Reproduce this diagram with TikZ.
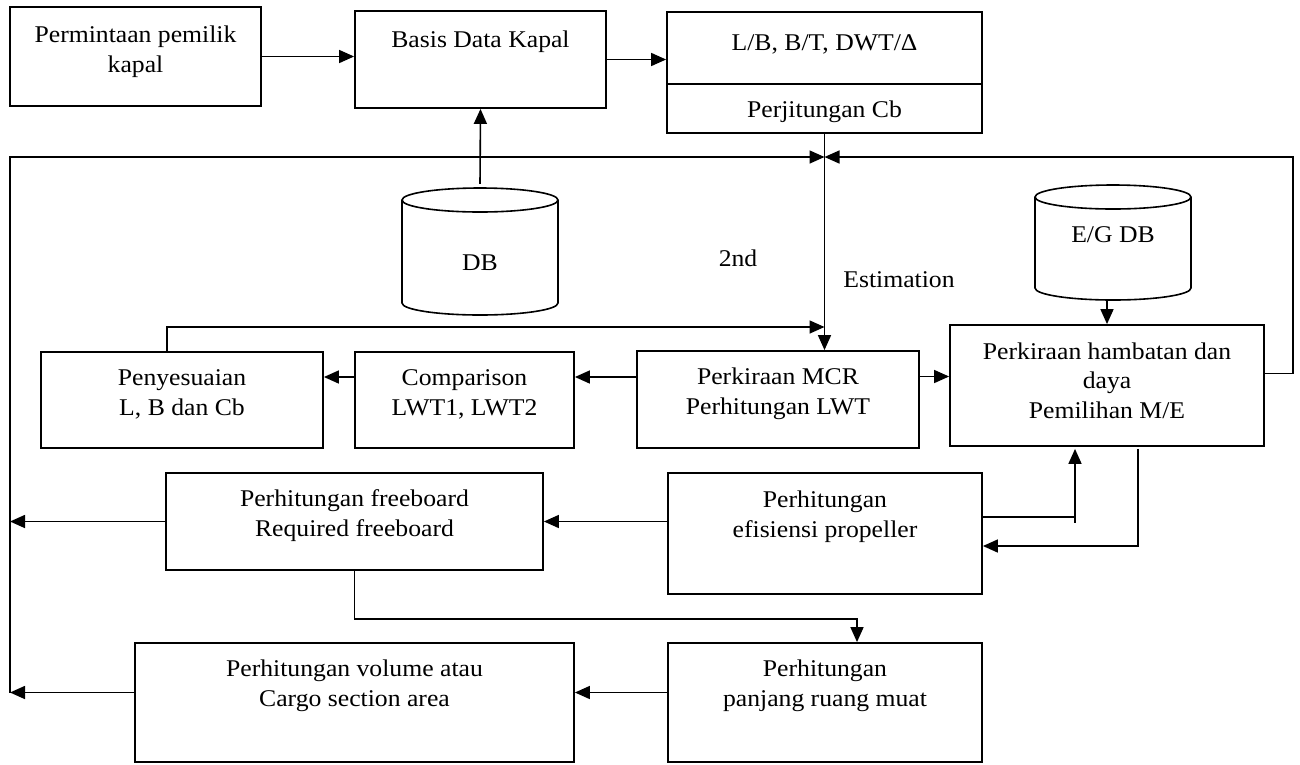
\documentclass[tikz,border=0pt]{standalone}
\usepackage{fontspec}
\setmainfont{Liberation Serif}[FakeStretch=1.07]
\usetikzlibrary{arrows.meta}
\begin{document}
\begin{tikzpicture}[x=1pt,y=-1pt,
  every node/.style={font=\fontsize{24}{29.5}\selectfont},
  box/.style={draw,line width=1.8pt,inner sep=0pt},
  cylbox/.style={inner sep=0pt},
  lbl/.style={align=center,anchor=base,inner sep=0pt},
  conn/.style={line width=1.6pt},
  arr/.style={line width=1.6pt,-{Triangle[length=15pt,width=13pt]}}]
\useasboundingbox (0,0) rectangle (1300,764);
% boxes
\node[box,minimum width=251pt,minimum height=99pt] (b1) at (135.5,56.5) {};
\node[box,minimum width=251pt,minimum height=97pt] (b2) at (480.5,59.5) {};
\node[box,minimum width=315pt,minimum height=121pt] (b3) at (824.5,72.5) {};
\draw[box] ([yshift=-11.5pt]b3.west) -- ([yshift=-11.5pt]b3.east);
\node[box,minimum width=282pt,minimum height=97pt] (mcr) at (778,399.5) {};
\node[box,minimum width=314pt,minimum height=121pt] (ham) at (1107,385.5) {};
\node[box,minimum width=282pt,minimum height=96pt] (pen) at (182,400) {};
\node[box,minimum width=219pt,minimum height=96pt] (cmp) at (464.5,400) {};
\node[box,minimum width=377pt,minimum height=97pt] (fb) at (354.5,521.5) {};
\node[box,minimum width=314pt,minimum height=121pt] (prop) at (825,533.5) {};
\node[box,minimum width=439pt,minimum height=119pt] (vol) at (354.5,702.5) {};
\node[box,minimum width=314pt,minimum height=119pt] (pan) at (825,702.5) {};
% cylinders
\node[cylbox,minimum width=156pt,minimum height=131pt] (db) at (480,249.5) {};
\draw[conn] (480,200) ellipse [x radius=78pt,y radius=12pt];
\draw[conn] (402,200) -- (402,303) arc[start angle=180,end angle=360,x radius=78pt,y radius=12pt] -- (558,200);
\node[cylbox,minimum width=156pt,minimum height=115pt] (eg) at (1113,242.5) {};
\draw[conn] (1113,197) ellipse [x radius=78pt,y radius=12pt];
\draw[conn] (1035,197) -- (1035,288) arc[start angle=180,end angle=360,x radius=78pt,y radius=12pt] -- (1191,197);
% labels (anchored at the baseline of the last line)
\node[lbl] (t1) at (135.5,72) {Permintaan pemilik\\kapal};
\node[lbl] (t2) at (480.5,47) {Basis Data Kapal};
\node[lbl] (t3a) at (824.5,50) {L/B, B/T, DWT/Δ};
\node[lbl] (t3b) at (824.5,117) {Perjitungan Cb};
\node[lbl] (tdb) at (480,270) {DB};
\node[lbl] (teg) at (1113,242) {E/G DB};
\node[lbl] (t2nd) at (738,266) {2nd};
\node[lbl] (test) at (899,287) {Estimation};
\node[lbl] (tmcr) at (778,414) {Perkiraan MCR\\Perhitungan LWT};
\node[lbl] (tham) at (1107,418) {Perkiraan hambatan dan\\daya\\Pemilihan M/E};
\node[lbl] (tpen) at (182,415) {Penyesuaian\\L, B dan Cb};
\node[lbl] (tcmp) at (464.5,415) {Comparison\\LWT1, LWT2};
\node[lbl] (tfb) at (354.5,536) {Perhitungan freeboard\\Required freeboard};
\node[lbl] (tprop) at (825,537) {Perhitungan\\efisiensi propeller};
\node[lbl] (tvol) at (354.5,706) {Perhitungan volume atau\\Cargo section area};
\node[lbl] (tpan) at (825,706) {Perhitungan\\panjang ruang muat};
% junction coordinates
\coordinate (lft) at (10,157);
\coordinate (jn) at (824.5,157);
\coordinate (rt) at (1293,157);
\coordinate (j2) at (824.5,327);
\coordinate (pv) at (1075,517);
% connectors
\draw[arr] (b1.east) -- (b1.east -| b2.west);
\draw[arr] (b2.east) -- (b2.east -| b3.west);
\draw[arr] (db.north) -- (b2.south);
\draw[arr] (b3.south) -- (b3.south |- mcr.north);
\draw[arr] ([yshift=10pt]vol.west -| lft) -- (lft) -- (jn);
\draw[arr] ([yshift=12pt]ham.east) -| (rt) -- (jn);
\draw[arr] ([xshift=-15pt]pen.north) |- (j2);
\draw[arr] ([yshift=22.5pt]mcr.west) -- ([yshift=22.5pt]mcr.west -| cmp.east);
\draw[arr] ([yshift=23pt]cmp.west) -- ([yshift=23pt]cmp.west -| pen.east);
\draw[arr] ([yshift=23pt]mcr.east) -- ([yshift=23pt]mcr.east -| ham.west);
\draw[arr] (eg.south -| ham.north) -- (ham.north);
\draw[arr] (fb.east -| prop.west) -- (fb.east);
\draw[arr] (fb.west) -- (fb.west -| lft);
\draw[arr] (fb.south) -- ++(0,48) -| ([xshift=32pt]pan.north);
\draw[arr] ([yshift=10pt]pan.west) -- ([yshift=10pt]vol.east);
\draw[arr] ([yshift=10pt]vol.west) -- ([yshift=10pt]vol.west -| lft);
\draw[conn] ([yshift=16.5pt]prop.east) -- (pv);
\draw[arr] ([xshift=-32pt,yshift=-76pt]ham.south) -- ([xshift=-32pt,yshift=-2pt]ham.south);
\draw[arr] ([xshift=31pt,yshift=-2pt]ham.south) |- ([yshift=-12.5pt]prop.east);
\end{tikzpicture}
\end{document}
